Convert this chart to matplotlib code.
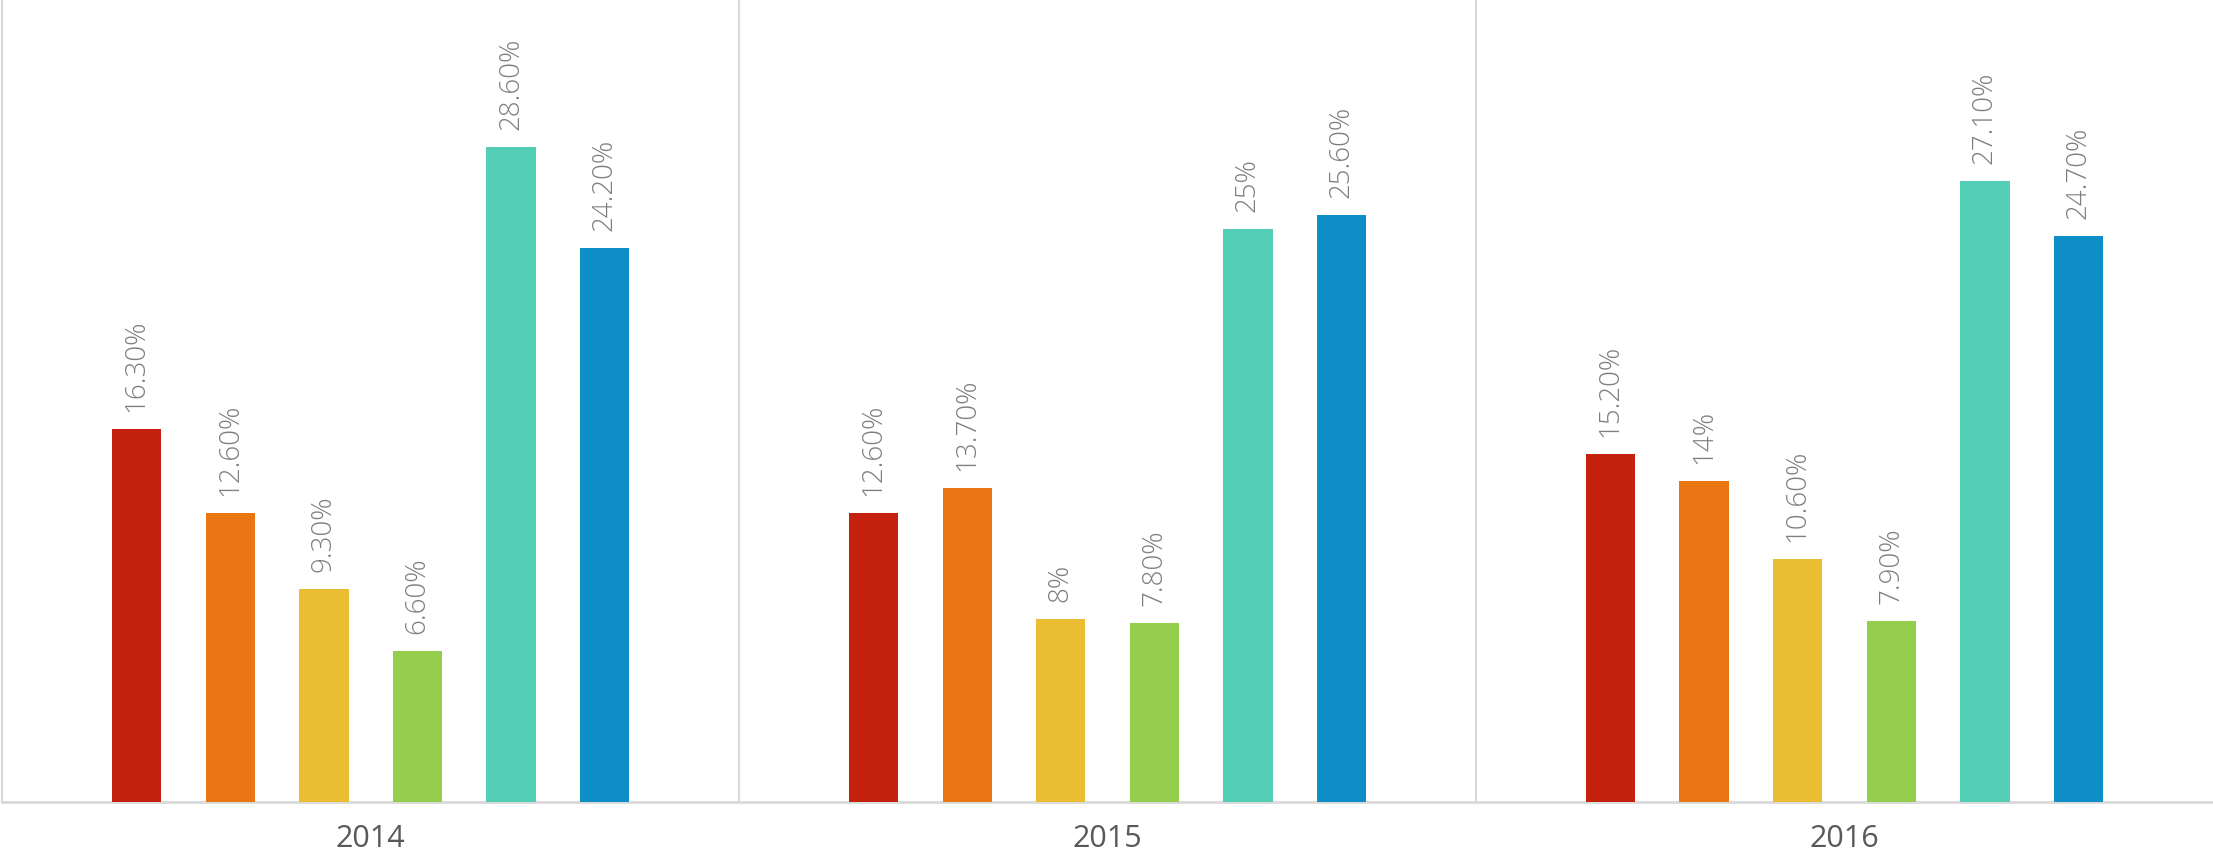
import numpy as np
import matplotlib.pyplot as plt

# share of each segment per year (%)
years = ['2014', '2015', '2016']
seg_a = [16.3, 12.6, 15.2]
seg_b = [12.6, 13.7, 14.0]
seg_c = [9.3, 8.0, 10.6]
seg_d = [6.6, 7.8, 7.9]
seg_e = [28.6, 25.0, 27.1]
seg_f = [24.2, 25.6, 24.7]
series = [seg_a, seg_b, seg_c, seg_d, seg_e, seg_f]
colors = ['#C4210F', '#E97613', '#EBBD33', '#94CE4C', '#52CFB5', '#0E8EC6']

def fmt(v):
    return f'{v:g}%' if float(v).is_integer() else f'{v:.2f}%'

plt.rcParams['font.family'] = ['Open Sans', 'Lato', 'DejaVu Sans']

fig = plt.figure(figsize=(22.13, 8.57), dpi=100)
ax = fig.add_axes([0.001, 0.064, 0.999, 0.936])

x = np.arange(len(years))
pitch = 0.127
width = 0.067
for k, (vals, c) in enumerate(zip(series, colors)):
    xs = x + (k - 2.5) * pitch
    bars = ax.bar(xs, vals, width=width, color=c, zorder=3)
    for b, v in zip(bars, vals):
        ax.annotate(fmt(v), (b.get_x() + b.get_width() / 2, v),
                    xytext=(0, 17), textcoords='offset pixels',
                    rotation=90, ha='center', va='bottom',
                    fontsize=20, color='#7F7F7F', fontweight='light')

ax.set_xlim(-0.5, 2.5)
ax.set_ylim(0, 35)
for sep in [0.5, 1.5]:
    ax.axvline(sep, color='#D9D9D9', lw=1.5, zorder=1)

for s in ['top', 'right']:
    ax.spines[s].set_visible(False)
ax.spines['left'].set_color('#D9D9D9')
ax.spines['left'].set_linewidth(1.5)
ax.spines['bottom'].set_color('#D9D9D9')
ax.spines['bottom'].set_linewidth(2)

ax.set_yticks([])
ax.set_xticks(x)
ax.set_xticklabels(years, fontsize=22, color='#595959')
ax.tick_params(axis='x', length=0, pad=16)

fig.savefig('out.png', dpi=100)
